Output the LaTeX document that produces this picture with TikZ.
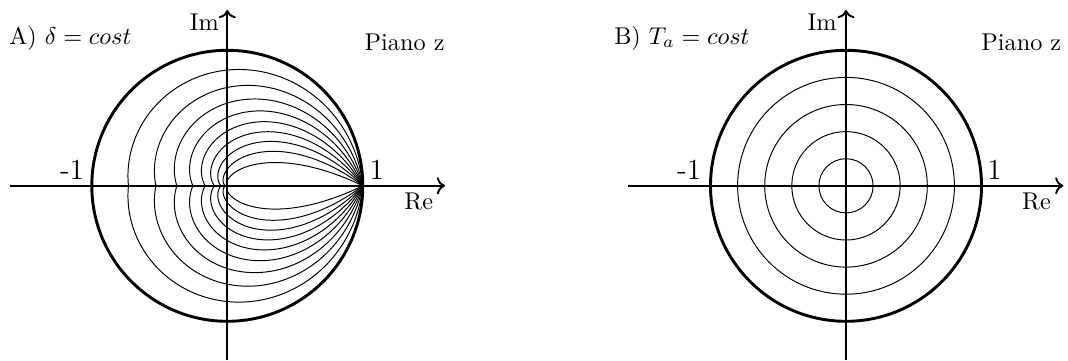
\documentclass[tikz,border=0pt]{standalone}
\usetikzlibrary{arrows.meta}
\begin{document}
\begin{tikzpicture}[x=0.4125pt,y=0.4125pt,
  axis/.style={line width=0.8pt,->},
  unitc/.style={line width=1.2pt},
  thinc/.style={line width=0.4pt},
  lbl/.style={inner sep=0pt},
  numlbl/.style={inner sep=0pt, font=\large}]
\useasboundingbox (0,0) rectangle (1068,360);
% ---------------- left plot ----------------
\begin{scope}[shift={(227.3,174.2)}]
  \coordinate (AxW) at (-217.3,0);
  \coordinate (AxE) at (217.7,0);
  \coordinate (AyS) at (0,-174.2);
  \coordinate (AyN) at (0,175.8);
  \foreach \d in {0.1,0.2,0.3,0.4,0.5,0.6,0.7,0.8,0.9}{
    \pgfmathsetmacro\k{\d/sqrt(1-\d*\d)}
    \draw[thinc] plot[domain=0:180, samples=181, variable=\t]
      ({135.5*exp(-\k*\t*pi/180)*cos(\t)},{135.5*exp(-\k*\t*pi/180)*sin(\t)});
    \draw[thinc] plot[domain=0:180, samples=181, variable=\t]
      ({135.5*exp(-\k*\t*pi/180)*cos(\t)},{-135.5*exp(-\k*\t*pi/180)*sin(\t)});
  }
  \draw[unitc] (0,0) circle[radius=135.5];
  \draw[axis] (AxW) -- (AxE);
  \draw[axis] (AyS) -- (AyN);
  \node[lbl, anchor=base east] (titleA) at (-95.5,141.8) {A) $\delta = cost$};
  \node[lbl, anchor=base east] (imA) at (-8,155.8) {Im};
  \node[lbl, anchor=base east] (pianoA) at (217.7,135.8) {Piano z};
  \node[numlbl, anchor=base east] (m1A) at (-142.9,6.5) {-1};
  \node[numlbl, anchor=base west] (p1A) at (141.8,6.5) {1};
  \node[lbl, anchor=base west] (reA) at (176.7,-23.2) {Re};
\end{scope}
% ---------------- right plot ----------------
\begin{scope}[shift={(846,174.2)}]
  \coordinate (BxW) at (-217.7,0);
  \coordinate (BxE) at (217.3,0);
  \coordinate (ByS) at (0,-174.2);
  \coordinate (ByN) at (0,175.8);
  \foreach \r in {0.2,0.4,0.6,0.8}{
    \draw[thinc] (0,0) circle[radius=135.5*\r];
  }
  \draw[unitc] (0,0) circle[radius=135.5];
  \draw[axis] (BxW) -- (BxE);
  \draw[axis] (ByS) -- (ByN);
  \node[lbl, anchor=base east] (titleB) at (-96,141.8) {B) $T_a = cost$};
  \node[lbl, anchor=base east] (imB) at (-9,155.8) {Im};
  \node[lbl, anchor=base east] (pianoB) at (215.7,135.8) {Piano z};
  \node[numlbl, anchor=base east] (m1B) at (-144.3,6.5) {-1};
  \node[numlbl, anchor=base west] (p1B) at (140.8,6.5) {1};
  \node[lbl, anchor=base west] (reB) at (175.7,-23.2) {Re};
\end{scope}
\end{tikzpicture}
\end{document}
